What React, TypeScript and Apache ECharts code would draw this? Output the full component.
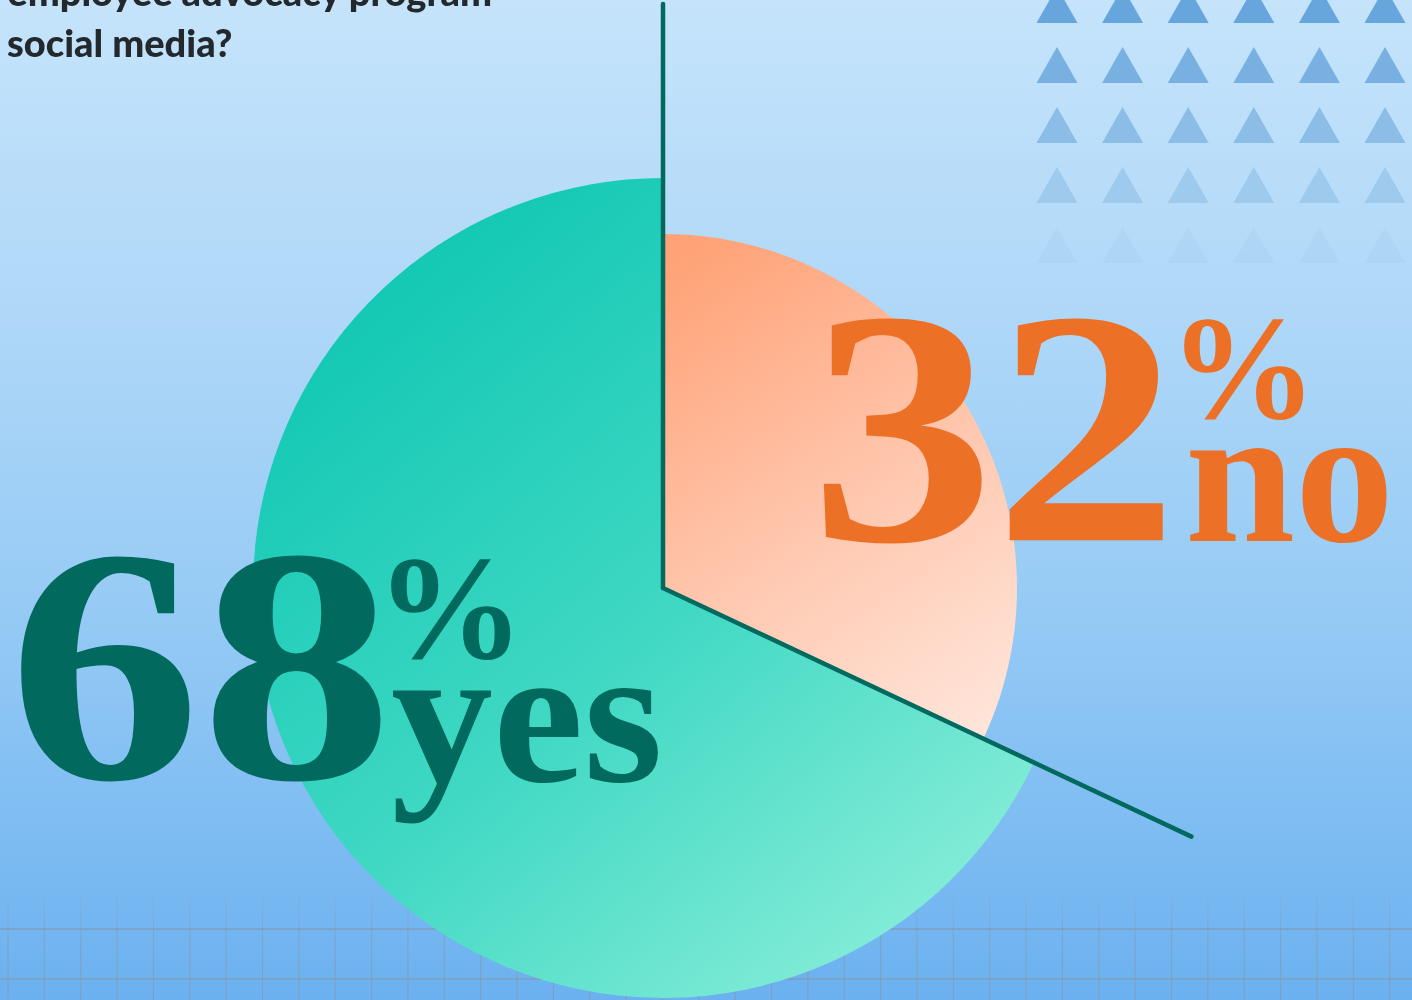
import React, { useEffect, useRef } from 'react';
import * as echarts from 'echarts';

const categories = ['no', 'yes'];
const values = [32, 68];
const percentTexts = ['32', '68'];
const answerTexts = ['no', 'yes'];
const titleLines = ['employee advocacy program', 'social media?'];

const W = 1412;
const H = 1000;
const CX = 663;
const CY = 588;
const R_YES = 410;
const R_NO = 354;
const LINE_LEN = 584;

export default function App() {
  const ref = useRef<HTMLDivElement>(null);

  useEffect(() => {
    const chart = echarts.init(ref.current!, null, { renderer: 'svg', width: W, height: H });
    const LG = echarts.graphic.LinearGradient;

    const total = values.reduce((a, b) => a + b, 0);
    const noFrac = values[categories.indexOf('no')] / total;
    const ang = noFrac * Math.PI * 2;
    const ex = CX + LINE_LEN * Math.sin(ang);
    const ey = CY - LINE_LEN * Math.cos(ang);

    const yesGrad = new LG(380, 230, 1000, 960, [
      { offset: 0, color: '#0fc7b3' },
      { offset: 0.5, color: '#3fd8c3' },
      { offset: 1, color: '#90f0db' },
    ], true);
    const noGrad = new LG(690, 250, 1010, 730, [
      { offset: 0, color: '#ffa277' },
      { offset: 0.55, color: '#ffc9b1' },
      { offset: 1, color: '#ffe6dc' },
    ], true);

    const bg = {
      type: 'rect', z: -10, silent: true,
      shape: { x: 0, y: 0, width: W, height: H },
      style: {
        fill: new LG(0, 0, 0, H, [
          { offset: 0, color: '#c5e4fb' },
          { offset: 0.3, color: '#b0d8f8' },
          { offset: 0.6, color: '#97cbf5' },
          { offset: 1, color: '#6bb1f0' },
        ], true),
      },
    };

    const tri: any[] = [];
    const rowColors = ['#67a6dc', '#78b1e1', '#8bbde7', '#9ecaee', 'rgba(140,185,230,0.12)'];
    for (let r = 0; r < 5; r++) {
      const base = 23 + r * 60;
      for (let c = 0; c < 6; c++) {
        const cx = 1057 + c * 65.6;
        tri.push({
          type: 'polygon', z: -5, silent: true,
          shape: { points: [[cx - 20.5, base], [cx + 20.5, base], [cx, base - 36]] },
          style: { fill: rowColors[r] },
        });
      }
    }

    const grid: any[] = [];
    const vStroke = new LG(0, 888, 0, 1000, [
      { offset: 0, color: 'rgba(135,150,170,0)' },
      { offset: 0.4, color: 'rgba(135,150,170,0.5)' },
      { offset: 1, color: 'rgba(135,150,170,0.7)' },
    ], true);
    for (let k = 0; k < 40; k++) {
      const x = 8 + k * 36.36;
      grid.push({
        type: 'line', z: -5, silent: true,
        shape: { x1: x, y1: 888, x2: x, y2: 1000 },
        style: { stroke: vStroke, lineWidth: 1.2 },
      });
    }
    [929, 979].forEach((y) => {
      grid.push({
        type: 'line', z: -5, silent: true,
        shape: { x1: 0, y1: y, x2: W, y2: y },
        style: { stroke: 'rgba(135,150,170,0.75)', lineWidth: 1.6 },
      });
    });

    const serif = 'Liberation Serif';
    const mk = (text: string, x: number, y: number, size: number, fill: string, family: string, weight: any, sx = 1, align = 'left') => ({
      type: 'text', z: 20, silent: true, x, y, scaleX: sx,
      style: { text, x: 0, y: 0, textAlign: align, textVerticalAlign: 'middle', fill, fontFamily: family, fontWeight: weight, fontSize: size },
    });
    const texts: any[] = [
      mk(titleLines[0], 492, -9, 38, '#23282c', 'Lato', 900, 1, 'right'),
      mk(titleLines[1], 7, 42, 38, '#23282c', 'Lato', 900),
      mk(percentTexts[1], 8, 665, 335, '#02695f', serif, 'bold', 1.15),
      mk('%', 376, 608, 148, '#02695f', serif, 'bold'),
      mk(answerTexts[1], 391, 714, 198, '#02695f', serif, 'bold', 1.03),
      mk(percentTexts[0], 810, 427, 335, '#ec7026', serif, 'bold', 1.1),
      mk('%', 1169, 368, 148, '#ec7026', serif, 'bold'),
      mk(answerTexts[0], 1185, 474, 198, '#ec7026', serif, 'bold'),
    ];

    const lines: any[] = [
      { type: 'line', z: 15, silent: true, shape: { x1: CX, y1: CY, x2: CX, y2: CY - LINE_LEN }, style: { stroke: '#02695f', lineWidth: 4.5, lineCap: 'round' } },
      { type: 'line', z: 15, silent: true, shape: { x1: CX, y1: CY, x2: ex, y2: ey }, style: { stroke: '#02695f', lineWidth: 4.5, lineCap: 'round' } },
    ];

    const pieBase = {
      type: 'pie',
      center: [CX, CY],
      startAngle: 90,
      clockwise: true,
      silent: true,
      label: { show: false },
      labelLine: { show: false },
      emphasis: { disabled: true },
      avoidLabelOverlap: false,
    };

    const option: any = {
      animation: false,
      series: [
        {
          ...pieBase,
          z: 2,
          radius: [0, R_YES],
          data: categories.map((c, i) => ({
            name: c,
            value: values[i],
            itemStyle: { color: c === 'yes' ? yesGrad : 'rgba(0,0,0,0)', borderWidth: 0 },
          })),
        },
        {
          ...pieBase,
          z: 3,
          radius: [0, R_NO],
          data: categories.map((c, i) => ({
            name: c,
            value: values[i],
            itemStyle: { color: c === 'no' ? noGrad : 'rgba(0,0,0,0)', borderWidth: 0 },
          })),
        },
      ],
      graphic: { elements: [bg, ...tri, ...grid, ...lines, ...texts] },
    };

    chart.setOption(option);
    return () => chart.dispose();
  }, []);

  return <div ref={ref} style={{ position: 'fixed', left: 0, top: 0, width: W, height: H }} />;
}
